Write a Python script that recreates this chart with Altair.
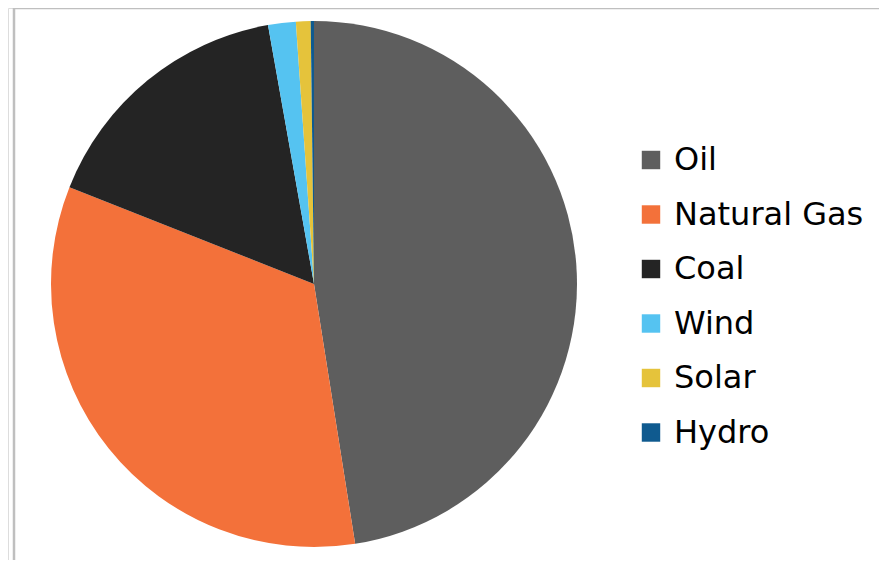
import altair as alt
import pandas as pd

sources = ["Oil", "Natural Gas", "Coal", "Wind", "Solar", "Hydro"]
shares = [47.5, 33.5, 16.2, 1.7, 0.9, 0.2]
colors = ["#5e5e5e", "#f3713a", "#242424", "#55c3f1", "#e5c33b", "#0f5a8f"]

df = pd.DataFrame({"source": sources, "share": shares, "order": list(range(len(sources)))})

W, H = 871, 552

pie = alt.Chart(df).mark_arc(radius=263, stroke=None).encode(
    theta=alt.Theta("share:Q", stack=True),
    order=alt.Order("order:Q"),
    color=alt.Color(
        "source:N",
        sort=sources,
        scale=alt.Scale(domain=sources, range=colors),
        legend=alt.Legend(
            title=None,
            orient="none",
            legendX=627,
            legendY=136,
            symbolType="square",
            symbolSize=340,
            symbolStrokeWidth=0,
            labelFont="DejaVu Sans",
            labelFontSize=32,
            labelColor="#000000",
            labelOffset=7,
            labelLimit=400,
            rowPadding=22.5,
        ),
    ),
    x=alt.value(306),
    y=alt.value(276),
)

border_df = pd.DataFrame({"k": [0]})
left_border = alt.Chart(border_df).mark_rule(color="#bfbfbf", strokeWidth=2.5).encode(
    x=alt.value(6), y=alt.value(0), y2=alt.value(H)
)
top_border = alt.Chart(border_df).mark_rule(color="#bfbfbf", strokeWidth=2.5).encode(
    x=alt.value(5), x2=alt.value(W), y=alt.value(0)
)

chart = alt.layer(pie, left_border, top_border).properties(
    width=W, height=H, autosize=alt.AutoSizeParams(type="none"), padding=0
).configure_view(stroke=None).configure(background="#ffffff")

chart.save("out.html", embed_options={"renderer": "svg", "actions": False})
